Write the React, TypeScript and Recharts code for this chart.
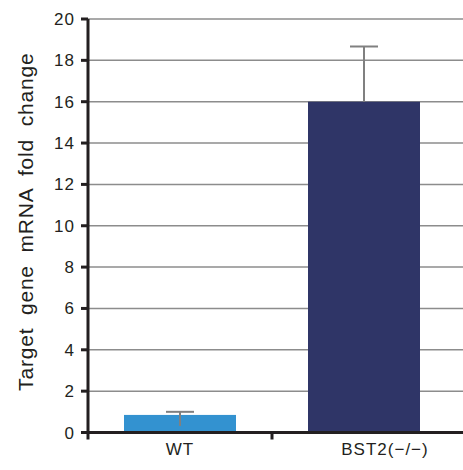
import { BarChart, Bar, XAxis, YAxis, CartesianGrid, Label } from 'recharts';

const genotypes = ['WT', 'BST2(\u2212/\u2212)'];
const foldChange = [0.85, 16.0];
const errorUp = [0.15, 2.67];
const errorDown = [0.54, 0];
const barColors = ['#3392d0', '#2f3567'];
const yTicks = [0, 2, 4, 6, 8, 10, 12, 14, 16, 18, 20];
const yTitle = 'Target gene mRNA fold change';

const data = genotypes.map((g, i) => ({
  genotype: g,
  fold: foldChange[i],
  up: errorUp[i],
  down: errorDown[i],
  color: barColors[i],
}));

const ink = '#231f20';
const font = '"Liberation Sans", Arial, sans-serif';

// bar plus a whisker, sized from the bar's own pixel/value ratio
function BarWithError(props: any) {
  const { x, y, width, height, payload } = props;
  const perUnit = height / payload.fold;
  const cx = x + width / 2;
  const top = y - payload.up * perUnit;
  const bottom = y + payload.down * perUnit;
  return (
    <g>
      <rect x={x} y={y} width={width} height={height} fill={payload.color} />
      <line x1={cx} x2={cx} y1={top} y2={bottom} stroke="#808080" strokeWidth={2} />
      <line x1={cx - 14} x2={cx + 14} y1={top} y2={top} stroke="#808080" strokeWidth={2} />
    </g>
  );
}

function XTick(props: any) {
  const { x, y, payload } = props;
  const half = payload.offset ?? 92;
  const left = x - half;
  // the second label sits right of its bar in the original
  const shift = payload.index === 1 ? 21 : 0;
  return (
    <g>
      <line x1={left} x2={left} y1={y - 8} y2={y - 1} stroke={ink} strokeWidth={3} />
      <text x={x + shift} y={y + 14} textAnchor="middle" fill={ink} fontSize={17} letterSpacing={1} fontFamily={font}>
        {payload.value}
      </text>
    </g>
  );
}

function YTitle(props: any) {
  const { viewBox } = props;
  const cx = viewBox.x + 25;
  const cy = viewBox.y + viewBox.height / 2 - 4;
  return (
    <text
      x={cx}
      y={cy}
      transform={`rotate(-90, ${cx}, ${cy})`}
      textAnchor="middle"
      dominantBaseline="central"
      fill={ink}
      fontSize={21}
      letterSpacing={0.8}
      wordSpacing={6}
      fontFamily={font}
    >
      {yTitle}
    </text>
  );
}

export default function App() {
  return (
    <div style={{ position: 'absolute', left: 0, top: 0, background: '#fff' }}>
      <BarChart width={463} height={470} data={data} margin={{ top: 19, right: 0, bottom: 0, left: 0 }}>
        <CartesianGrid vertical={false} stroke="#8c8c8c" strokeWidth={1.5} />
        <XAxis
          dataKey="genotype"
          height={37.5}
          padding={{ left: 0, right: 7 }}
          axisLine={{ stroke: ink, strokeWidth: 3 }}
          tickLine={false}
          tick={<XTick />}
          interval={0}
        />
        <YAxis
          width={88}
          domain={[0, 20]}
          ticks={yTicks}
          interval={0}
          axisLine={{ stroke: ink, strokeWidth: 3 }}
          tickLine={{ stroke: ink, strokeWidth: 3 }}
          tickSize={7}
          tickMargin={6}
          tick={{ fill: ink, fontSize: 17, letterSpacing: 1, fontFamily: font }}
        >
          <Label content={<YTitle />} />
        </YAxis>
        <Bar dataKey="fold" barSize={112} shape={<BarWithError />} isAnimationActive={false} />
      </BarChart>
    </div>
  );
}
